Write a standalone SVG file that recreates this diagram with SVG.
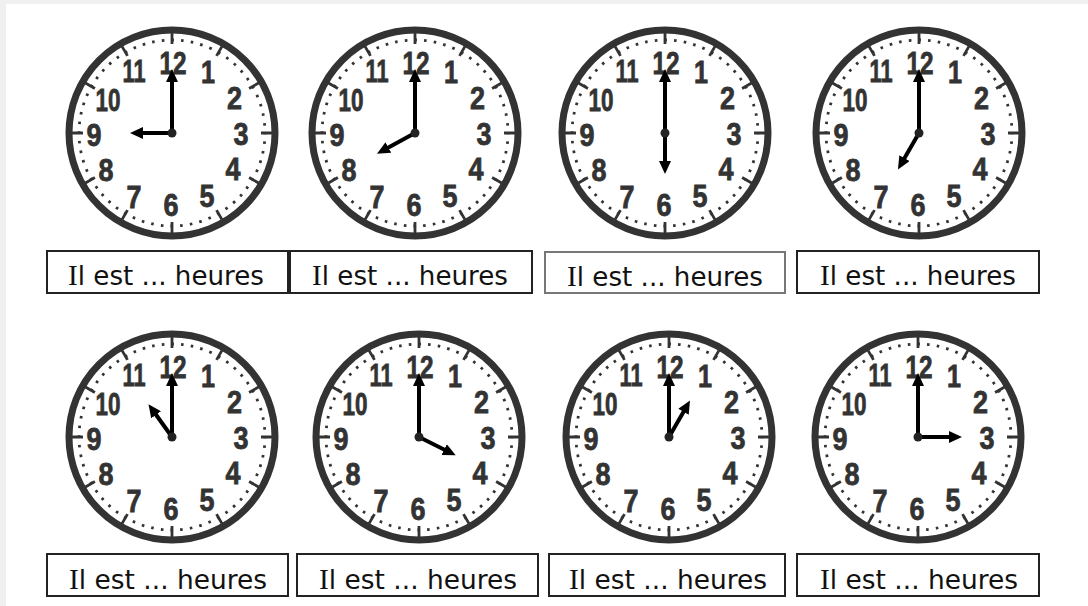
<svg xmlns="http://www.w3.org/2000/svg" xmlns:xlink="http://www.w3.org/1999/xlink" width="1088" height="606" viewBox="0 0 1088 606">
<style>
.num{font-family:"Liberation Sans",Arial,sans-serif;font-weight:bold;font-size:32px;fill:#333;stroke:#333;stroke-width:0.8;text-anchor:middle}
.hand{stroke:#000;stroke-width:4;fill:none;marker-end:url(#ah)}
.box{fill:#fff;stroke:#222;stroke-width:2}
.lbl{font-family:"DejaVu Sans",Tahoma,sans-serif;font-size:26px;fill:#111;text-anchor:middle}
.ser{font-family:"Liberation Serif","Times New Roman",serif;font-size:29px}
</style>
<defs>
<marker id="ah" viewBox="0 0 13 12" refX="1" refY="6" markerWidth="13" markerHeight="12" markerUnits="userSpaceOnUse" orient="auto">
<path d="M0,0 L13,6 L0,12 z" fill="#000"/>
</marker>
<g id="face">
<circle r="103" fill="#fff" stroke="#333" stroke-width="7"/>
<circle r="93" fill="none" stroke="#333" stroke-width="2.8" stroke-dasharray="2.6 7.1389" stroke-dashoffset="1.3"/>
<path d="M0,-100L0,-89M50,-86.6L44.5,-77.1M86.6,-50L77.1,-44.5M100,0L89,0M86.6,50L77.1,44.5M50,86.6L44.5,77.1M0,100L0,89M-50,86.6L-44.5,77.1M-86.6,50L-77.1,44.5M-100,0L-89,0M-86.6,-50L-77.1,-44.5M-50,-86.6L-44.5,-77.1" stroke="#333" stroke-width="2.8"/>
<text class="num" x="36" y="-50.4" textLength="14" lengthAdjust="spacingAndGlyphs">1</text>
<text class="num" x="62.4" y="-24" textLength="15" lengthAdjust="spacingAndGlyphs">2</text>
<text class="num" x="69" y="12" textLength="15" lengthAdjust="spacingAndGlyphs">3</text>
<text class="num" x="61" y="47" textLength="15" lengthAdjust="spacingAndGlyphs">4</text>
<text class="num" x="35" y="74" textLength="15" lengthAdjust="spacingAndGlyphs">5</text>
<text class="num" x="-1" y="83" textLength="15" lengthAdjust="spacingAndGlyphs">6</text>
<text class="num" x="-38" y="75" textLength="15" lengthAdjust="spacingAndGlyphs">7</text>
<text class="num" x="-66" y="48" textLength="15" lengthAdjust="spacingAndGlyphs">8</text>
<text class="num" x="-78" y="13" textLength="15" lengthAdjust="spacingAndGlyphs">9</text>
<text class="num" x="-64" y="-22" textLength="25" lengthAdjust="spacingAndGlyphs">10</text>
<text class="num" x="-38" y="-51" textLength="23" lengthAdjust="spacingAndGlyphs">11</text>
<text class="num" x="1" y="-59" textLength="27" lengthAdjust="spacingAndGlyphs">12</text>
</g>
<circle id="pin" r="4.5" fill="#222"/>
</defs>
<rect width="1088" height="606" fill="#f0f0f0"/>
<rect x="6" y="4" width="1082" height="602" fill="#fff"/>

<g id="clock1" transform="translate(172,133)"><use xlink:href="#face" href="#face"/><line class="hand" x1="0" y1="0" x2="0" y2="-52"/><line class="hand" x1="0" y1="0" x2="-30" y2="0"/><use xlink:href="#pin" href="#pin"/></g>
<g id="clock2" transform="translate(415,133)"><use xlink:href="#face" href="#face"/><line class="hand" x1="0" y1="0" x2="0" y2="-52"/><line class="hand" x1="0" y1="0" x2="-27.5" y2="15"/><use xlink:href="#pin" href="#pin"/></g>
<g id="clock3" transform="translate(665,133)"><use xlink:href="#face" href="#face"/><line class="hand" x1="0" y1="0" x2="0" y2="-52"/><line class="hand" x1="0" y1="0" x2="0" y2="29"/><use xlink:href="#pin" href="#pin"/></g>
<g id="clock4" transform="translate(919,133)"><use xlink:href="#face" href="#face"/><line class="hand" x1="0" y1="0" x2="0" y2="-52"/><line class="hand" x1="0" y1="0" x2="-15" y2="26"/><use xlink:href="#pin" href="#pin"/></g>
<g id="clock5" transform="translate(172,437)"><use xlink:href="#face" href="#face"/><line class="hand" x1="0" y1="0" x2="0" y2="-52"/><line class="hand" x1="0" y1="0" x2="-16.5" y2="-23"/><use xlink:href="#pin" href="#pin"/></g>
<g id="clock6" transform="translate(419,437)"><use xlink:href="#face" href="#face"/><line class="hand" x1="0" y1="0" x2="0" y2="-52"/><line class="hand" x1="0" y1="0" x2="26" y2="13"/><use xlink:href="#pin" href="#pin"/></g>
<g id="clock7" transform="translate(669,437)"><use xlink:href="#face" href="#face"/><line class="hand" x1="0" y1="0" x2="0" y2="-52"/><line class="hand" x1="0" y1="0" x2="15" y2="-26"/><use xlink:href="#pin" href="#pin"/></g>
<g id="clock8" transform="translate(918,437)"><use xlink:href="#face" href="#face"/><line class="hand" x1="0" y1="0" x2="0" y2="-52"/><line class="hand" x1="0" y1="0" x2="32" y2="0"/><use xlink:href="#pin" href="#pin"/></g>

<g id="label1"><rect class="box" x="47" y="251" width="241" height="42"/><text class="lbl" x="166" y="285" textLength="196" lengthAdjust="spacingAndGlyphs"><tspan class="ser">I</tspan>l est ... heures</text></g>
<g id="label2"><rect class="box" x="290" y="251" width="242" height="42"/><text class="lbl" x="410" y="285" textLength="196" lengthAdjust="spacingAndGlyphs"><tspan class="ser">I</tspan>l est ... heures</text></g>
<g id="label3"><rect class="box" x="545" y="252" width="240" height="41" style="stroke:#777"/><text class="lbl" x="665" y="286" textLength="196" lengthAdjust="spacingAndGlyphs"><tspan class="ser">I</tspan>l est ... heures</text></g>
<g id="label4"><rect class="box" x="797" y="251" width="242" height="42"/><text class="lbl" x="918" y="285" textLength="196" lengthAdjust="spacingAndGlyphs"><tspan class="ser">I</tspan>l est ... heures</text></g>
<g id="label5"><rect class="box" x="47" y="554" width="241" height="42"/><text class="lbl" x="168" y="589" textLength="198" lengthAdjust="spacingAndGlyphs"><tspan class="ser">I</tspan>l est ... heures</text></g>
<g id="label6"><rect class="box" x="297" y="554" width="241" height="42"/><text class="lbl" x="418" y="589" textLength="198" lengthAdjust="spacingAndGlyphs"><tspan class="ser">I</tspan>l est ... heures</text></g>
<g id="label7"><rect class="box" x="549" y="554" width="236" height="42"/><text class="lbl" x="668" y="589" textLength="198" lengthAdjust="spacingAndGlyphs"><tspan class="ser">I</tspan>l est ... heures</text></g>
<g id="label8"><rect class="box" x="797" y="554" width="242" height="42"/><text class="lbl" x="919" y="589" textLength="198" lengthAdjust="spacingAndGlyphs"><tspan class="ser">I</tspan>l est ... heures</text></g>
</svg>
